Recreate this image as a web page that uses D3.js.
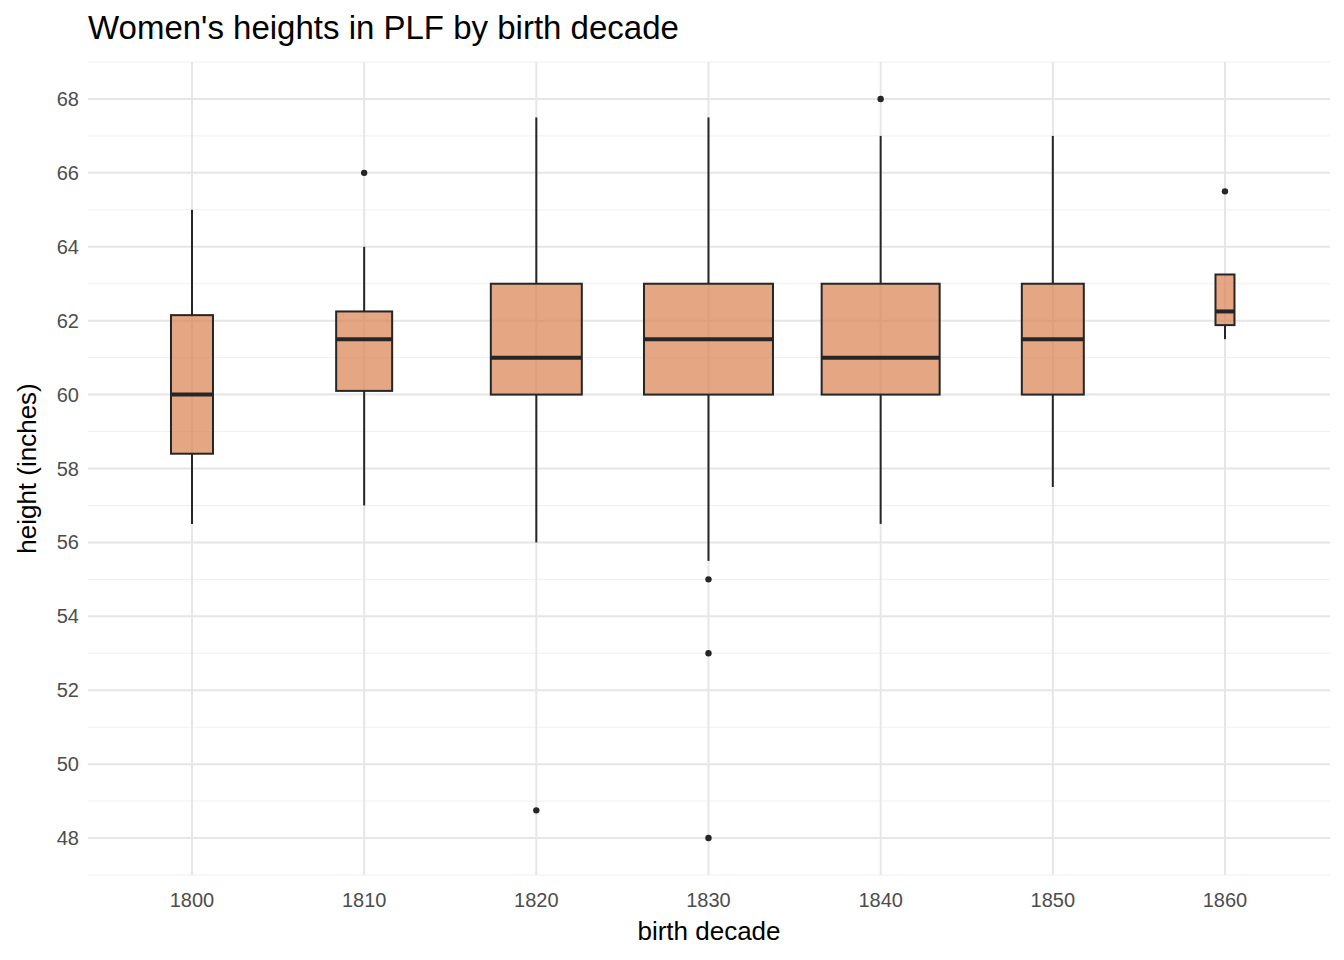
<!DOCTYPE html>
<html><head><meta charset="utf-8">
<script src="https://cdn.jsdelivr.net/npm/d3@7"></script>
<style>body{margin:0;background:#fff;font-family:"Liberation Sans",Arial,sans-serif}</style>
</head><body><svg id="c" width="1344" height="960"></svg>
<script>
// box stats per decade
const decades = [1800, 1810, 1820, 1830, 1840, 1850, 1860];
const whiskerLow = [56.5, 57, 56, 55.5, 56.5, 57.5, 61.5];
const q1 = [58.4, 60.1, 60, 60, 60, 60, 61.88];
const median = [60, 61.5, 61, 61.5, 61, 61.5, 62.25];
const q3 = [62.15, 62.25, 63, 63, 63, 63, 63.25];
const whiskerHigh = [65, 64, 67.5, 67.5, 67, 67, 63.25];
const boxWidth = [42, 56, 91, 129, 118, 62, 19]; // varwidth-like
const outliers = [[1810, 66], [1820, 48.75], [1830, 55], [1830, 53], [1830, 48], [1840, 68], [1860, 65.5]];
const yTicks = [48, 50, 52, 54, 56, 58, 60, 62, 64, 66, 68];

const svg = d3.select("#c");
const L = 88, R = 1330, T = 62, B = 875;
const x = d3.scaleLinear().domain([1793.96, 1866.1]).range([L, R]);
const y = d3.scaleLinear().domain([47.0, 69.0]).range([B, T]);

// grid
const g = svg.append("g");
d3.range(47, 70, 2).forEach(v => g.append("line").attr("x1", L).attr("x2", R).attr("y1", y(v)).attr("y2", y(v)).attr("stroke", "#f0f0f0").attr("stroke-width", 1));
yTicks.forEach(v => g.append("line").attr("x1", L).attr("x2", R).attr("y1", y(v)).attr("y2", y(v)).attr("stroke", "#e6e6e6").attr("stroke-width", 2));
decades.forEach(d => g.append("line").attr("x1", x(d)).attr("x2", x(d)).attr("y1", T).attr("y2", B).attr("stroke", "#e6e6e6").attr("stroke-width", 2));

// axes text
const ax = svg.append("g").attr("font-size", 20).attr("fill", "#4d4d4d");
yTicks.forEach(v => ax.append("text").attr("x", 79).attr("y", y(v) + 7).attr("text-anchor", "end").text(v));
decades.forEach(d => ax.append("text").attr("x", x(d)).attr("y", 907).attr("text-anchor", "middle").text(d));
svg.append("text").attr("x", (L + R) / 2).attr("y", 940).attr("text-anchor", "middle").attr("font-size", 26).text("birth decade");
svg.append("text").attr("transform", `translate(36,${(T + B) / 2}) rotate(-90)`).attr("text-anchor", "middle").attr("font-size", 26).text("height (inches)");
svg.append("text").attr("x", 88).attr("y", 39).attr("font-size", 33).text("Women's heights in PLF by birth decade");

// boxes
decades.forEach((d, i) => {
  const cx = x(d), w = boxWidth[i];
  const b = svg.append("g").attr("stroke", "#262626").attr("stroke-width", 2);
  b.append("line").attr("x1", cx).attr("x2", cx).attr("y1", y(whiskerHigh[i])).attr("y2", y(q3[i]));
  b.append("line").attr("x1", cx).attr("x2", cx).attr("y1", y(q1[i])).attr("y2", y(whiskerLow[i]));
  b.append("rect").attr("x", cx - w / 2).attr("width", w).attr("y", y(q3[i])).attr("height", y(q1[i]) - y(q3[i]))
    .attr("fill", "#d9804f").attr("fill-opacity", 0.7);
  b.append("line").attr("x1", cx - w / 2).attr("x2", cx + w / 2).attr("y1", y(median[i])).attr("y2", y(median[i])).attr("stroke-width", 4);
});
outliers.forEach(o => svg.append("circle").attr("cx", x(o[0])).attr("cy", y(o[1])).attr("r", 3.2).attr("fill", "#262626"));
</script></body></html>
